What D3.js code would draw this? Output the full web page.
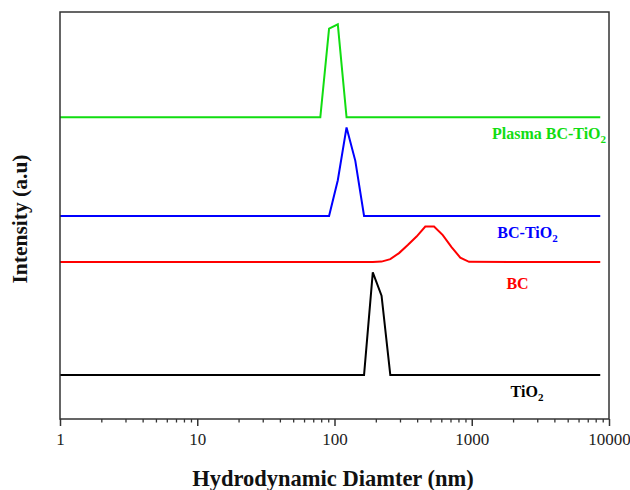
<!DOCTYPE html>
<html><head><meta charset="utf-8">
<script src="https://cdn.jsdelivr.net/npm/d3@7"></script>
<style>
html,body{margin:0;padding:0;background:#fff;}
svg{display:block;}
text{font-family:"Liberation Serif","DejaVu Serif",serif;}
</style></head>
<body>
<svg id="chart" width="630" height="490"></svg>
<script>
// ---- data (hydrodynamic diameter in nm, intensity in a.u.) ----
const seriesNames = ["TiO2", "BC", "BC-TiO2", "Plasma BC-TiO2"];
const seriesColors = ["#000000", "#ff0000", "#0000ff", "#11dd11"];
const seriesOffsets = [44, 156.5, 202.5, 301];

const tio2Sizes = [1, 164.2, 190.1, 220.2, 255.0, 8635];
const tio2Values = [0, 0, 102.3, 79, 0, 0];

const bcSizes = [1, 190.1, 220.2, 255.0, 295.3, 342.0, 396.1, 458.7, 531.2, 615.1, 712.4, 825.0, 955.4, 8635];
const bcValues = [0, 0, 0.5, 3, 9, 17, 25.5, 35.5, 35.5, 27, 15, 4.5, 0.3, 0];

const bctio2Sizes = [1, 91.28, 105.7, 122.4, 141.8, 164.2, 8635];
const bctio2Values = [0, 0, 35.7, 88.4, 55, 0, 0];

const plasmaSizes = [1, 78.82, 91.28, 105.7, 122.4, 8635];
const plasmaValues = [0, 0, 88.4, 92.7, 0, 0];

const majorTicks = [1, 10, 100, 1000, 10000];
const tickLabels = ["1", "10", "100", "1000", "10000"];

// ---- layout ----
const svg = d3.select("#chart");
const m = {left: 60, right: 21, top: 12, bottom: 71};
const W = 630, H = 490;
const x = d3.scaleLog().domain([1, 10000]).range([m.left, W - m.right]);
const y = d3.scaleLinear().domain([0, 406]).range([H - m.bottom, m.top]);

const seriesSizes = [tio2Sizes, bcSizes, bctio2Sizes, plasmaSizes];
const seriesValues = [tio2Values, bcValues, bctio2Values, plasmaValues];

const line = d3.line().x(d => x(d[0])).y(d => y(d[1]));

seriesNames.forEach((name, i) => {
  const pts = seriesSizes[i].map((s, j) => [s, seriesValues[i][j] + seriesOffsets[i]]);
  svg.append("path")
    .datum(pts)
    .attr("d", line)
    .attr("fill", "none")
    .attr("stroke", seriesColors[i])
    .attr("stroke-width", 2)
    .attr("stroke-linejoin", "miter");
});

// frame
svg.append("rect")
  .attr("x", x(1)).attr("y", y(406))
  .attr("width", x(10000) - x(1)).attr("height", y(0) - y(406))
  .attr("fill", "none").attr("stroke", "#333").attr("stroke-width", 1.5);

// minor ticks
const minorTicks = [];
for (let d = 1; d < 10000; d *= 10) for (let k = 2; k <= 9; k++) minorTicks.push(d * k);

const gMinor = svg.append("g").attr("transform", `translate(0,${y(0)})`)
  .call(d3.axisBottom(x).tickValues(minorTicks).tickSize(3.5).tickFormat(""));
gMinor.select(".domain").remove();
gMinor.selectAll("line").attr("stroke", "#333").attr("stroke-width", 1.3);

const gMajor = svg.append("g").attr("transform", `translate(0,${y(0)})`)
  .call(d3.axisBottom(x).tickValues(majorTicks).tickSize(7).tickPadding(7)
    .tickFormat((d, i) => tickLabels[i]));
gMajor.select(".domain").remove();
gMajor.selectAll("line").attr("stroke", "#333").attr("stroke-width", 1.5);
gMajor.selectAll("text").attr("font-size", 17).attr("fill", "#222")
  .attr("font-family", "'Liberation Serif', serif");

// axis titles
svg.append("text")
  .attr("x", 333).attr("y", 486)
  .attr("text-anchor", "middle")
  .attr("font-size", 22.5).attr("font-weight", "bold").attr("fill", "#111")
  .text("Hydrodynamic Diamter (nm)");

svg.append("text")
  .attr("transform", "translate(27,219) rotate(-90)")
  .attr("text-anchor", "middle")
  .attr("font-size", 21.5).attr("font-weight", "bold").attr("fill", "#111")
  .text("Intensity (a.u)");

// series labels
const labelPos = [[527, 396.5], [517.5, 289], [527.5, 237.5], [549, 139]];
const labelParts = [["TiO", "2"], ["BC", ""], ["BC-TiO", "2"], ["Plasma BC-TiO", "2"]];
seriesNames.forEach((name, i) => {
  const t = svg.append("text")
    .attr("x", labelPos[i][0]).attr("y", labelPos[i][1])
    .attr("text-anchor", "middle")
    .attr("font-size", 16).attr("font-weight", "bold")
    .attr("fill", seriesColors[i]);
  t.append("tspan").text(labelParts[i][0]);
  if (labelParts[i][1]) {
    t.append("tspan").attr("font-size", 11).attr("dy", 4).text(labelParts[i][1]);
  }
});
</script>
</body></html>
